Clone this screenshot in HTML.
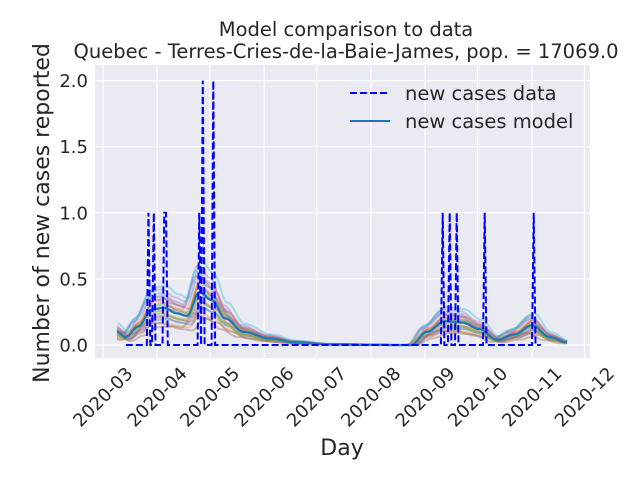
<!DOCTYPE html>
<html><head><meta charset="utf-8"><style>
body{margin:0;background:#fff;}
svg{display:block;font-family:"DejaVu Sans","Liberation Sans",sans-serif;}
</style></head><body>
<svg id="chart" width="640" height="480">
<rect x="0" y="0" width="640" height="480" fill="#fff"/>
<rect x="95" y="65" width="495" height="293" fill="#eaeaf2"/>
<g id="grid"></g>
<g id="models"></g>
<g id="datag"></g>
<g id="ticks"></g>
<text x="346" y="36" text-anchor="middle" font-size="19.5" fill="#262626">Model comparison to data</text>
<text x="346" y="58" text-anchor="middle" font-size="19.5" fill="#262626">Quebec - Terres-Cries-de-la-Baie-James, pop. = 17069.0</text>
<text x="342" y="455" text-anchor="middle" font-size="22" fill="#262626">Day</text>
<text transform="translate(49,213) rotate(-90)" text-anchor="middle" font-size="22" fill="#262626">Number of new cases reported</text>
<g>
<line x1="350" y1="93" x2="390" y2="93" stroke="#0000ff" stroke-width="2" stroke-dasharray="7,3"/>
<text x="405" y="100" font-size="19.5" fill="#262626">new cases data</text>
<line x1="350" y1="121" x2="390" y2="121" stroke="#1f77b4" stroke-width="2"/>
<text x="405" y="128" font-size="19.5" fill="#262626">new cases model</text>
</g>
</svg>
<script>
// data (days since 2020-03-01)
const xTickLabels=["2020-03","2020-04","2020-05","2020-06","2020-07","2020-08","2020-09","2020-10","2020-11","2020-12"];
const xTickDays=[0,31,61,92,122,153,184,214,245,275];
const yTicks=[0,0.5,1.0,1.5,2.0];
const dataStart=13, dataEnd=250;
const spikeDays=[26,29,35,36,55,57,63,194,198,202,218,246];
const spikeVals=[1,1,1,1,1,2,2,1,1,1,1,1];
const modelDays=[8,13,20,28,35,42,48,55,62,70,80,95,110,130,170,176,185,195,205,215,225,235,245,255,265];
const modelMean=[0.1,0.06,0.14,0.27,0.28,0.24,0.22,0.4,0.34,0.2,0.1,0.05,0.02,0.005,0,0,0.1,0.18,0.17,0.12,0.04,0.08,0.15,0.06,0.02];
const memberScale=[1.3,0.6,1.1,0.8,1.5,0.5,1.2,0.75,1.0,1.4,0.7,1.15,0.85,1.25,0.95,0.6,1.35,1.05,0.9,1.6];
const memberShift=[-2,1,0,2,-1,3,-3,0,1,-2,2,0,-1,1,3,-3,0,2,-2,1];

const X=d=>103+d*1.751, Y=v=>345-v*132.2;
const NS="http://www.w3.org/2000/svg";
function mk(t,a,p){const e=document.createElementNS(NS,t);for(const k in a)e.setAttribute(k,a[k]);p.appendChild(e);return e;}
const grid=document.getElementById('grid'),ticks=document.getElementById('ticks');
xTickDays.forEach((d,i)=>{
 const g=mk('line',{x1:X(d),x2:X(d),y1:65,y2:358,stroke:'#fff','stroke-width':1.2},grid);
 
 
 const t=mk('text',{x:0,y:6,'font-size':18,fill:'#262626','text-anchor':'middle',transform:`translate(${X(d)},${397}) rotate(-45)`},ticks);
 t.textContent=xTickLabels[i];
 
 
});
yTicks.forEach(v=>{
 const g=mk('line',{x1:95,x2:590,y1:Y(v),y2:Y(v),stroke:'#fff','stroke-width':1.2},grid);
 
 
 const t=mk('text',{x:88,y:Y(v)+6.5,'font-size':18,fill:'#262626','text-anchor':'end'},ticks);
 t.textContent=v.toFixed(1);
 
 
});
const colors=['#1f77b4','#ff7f0e','#2ca02c','#d62728','#9467bd','#8c564b','#e377c2','#7f7f7f','#bcbd22','#17becf'];
const models=document.getElementById('models');
function interp(d){
 if(d<=modelDays[0])return modelMean[0];
 for(let i=1;i<modelDays.length;i++){if(d<=modelDays[i]){const t=(d-modelDays[i-1])/(modelDays[i]-modelDays[i-1]);const s=(1-Math.cos(Math.PI*t))/2;return modelMean[i-1]+(modelMean[i]-modelMean[i-1])*s;}}
 return modelMean[modelMean.length-1];
}
const last=modelDays[modelDays.length-1];
memberScale.forEach((s,m)=>{
 let pts=[];
 for(let d=modelDays[0];d<=last;d++){pts.push(X(d).toFixed(1)+','+Y(Math.max(0,interp(d-memberShift[m])*s)).toFixed(1));}
 const p=mk('polyline',{points:pts.join(' '),fill:'none',stroke:colors[m%10],'stroke-width':2,'stroke-opacity':0.35},models);
 
 
});
let mp=[];for(let d=modelDays[0];d<=last;d++)mp.push(X(d).toFixed(1)+','+Y(interp(d)).toFixed(1));
const mean=mk('polyline',{points:mp.join(' '),fill:'none',stroke:'#1f77b4','stroke-width':2.2},models);


let dp=[];
for(let d=dataStart;d<=dataEnd;d++){const k=spikeDays.indexOf(d);dp.push(X(d).toFixed(1)+','+Y(k>=0?spikeVals[k]:0).toFixed(1));}
const dl=mk('polyline',{points:dp.join(' '),fill:'none',stroke:'#0000ff','stroke-width':2,'stroke-dasharray':'7,3'},document.getElementById('datag'));


</script>
</body></html>
